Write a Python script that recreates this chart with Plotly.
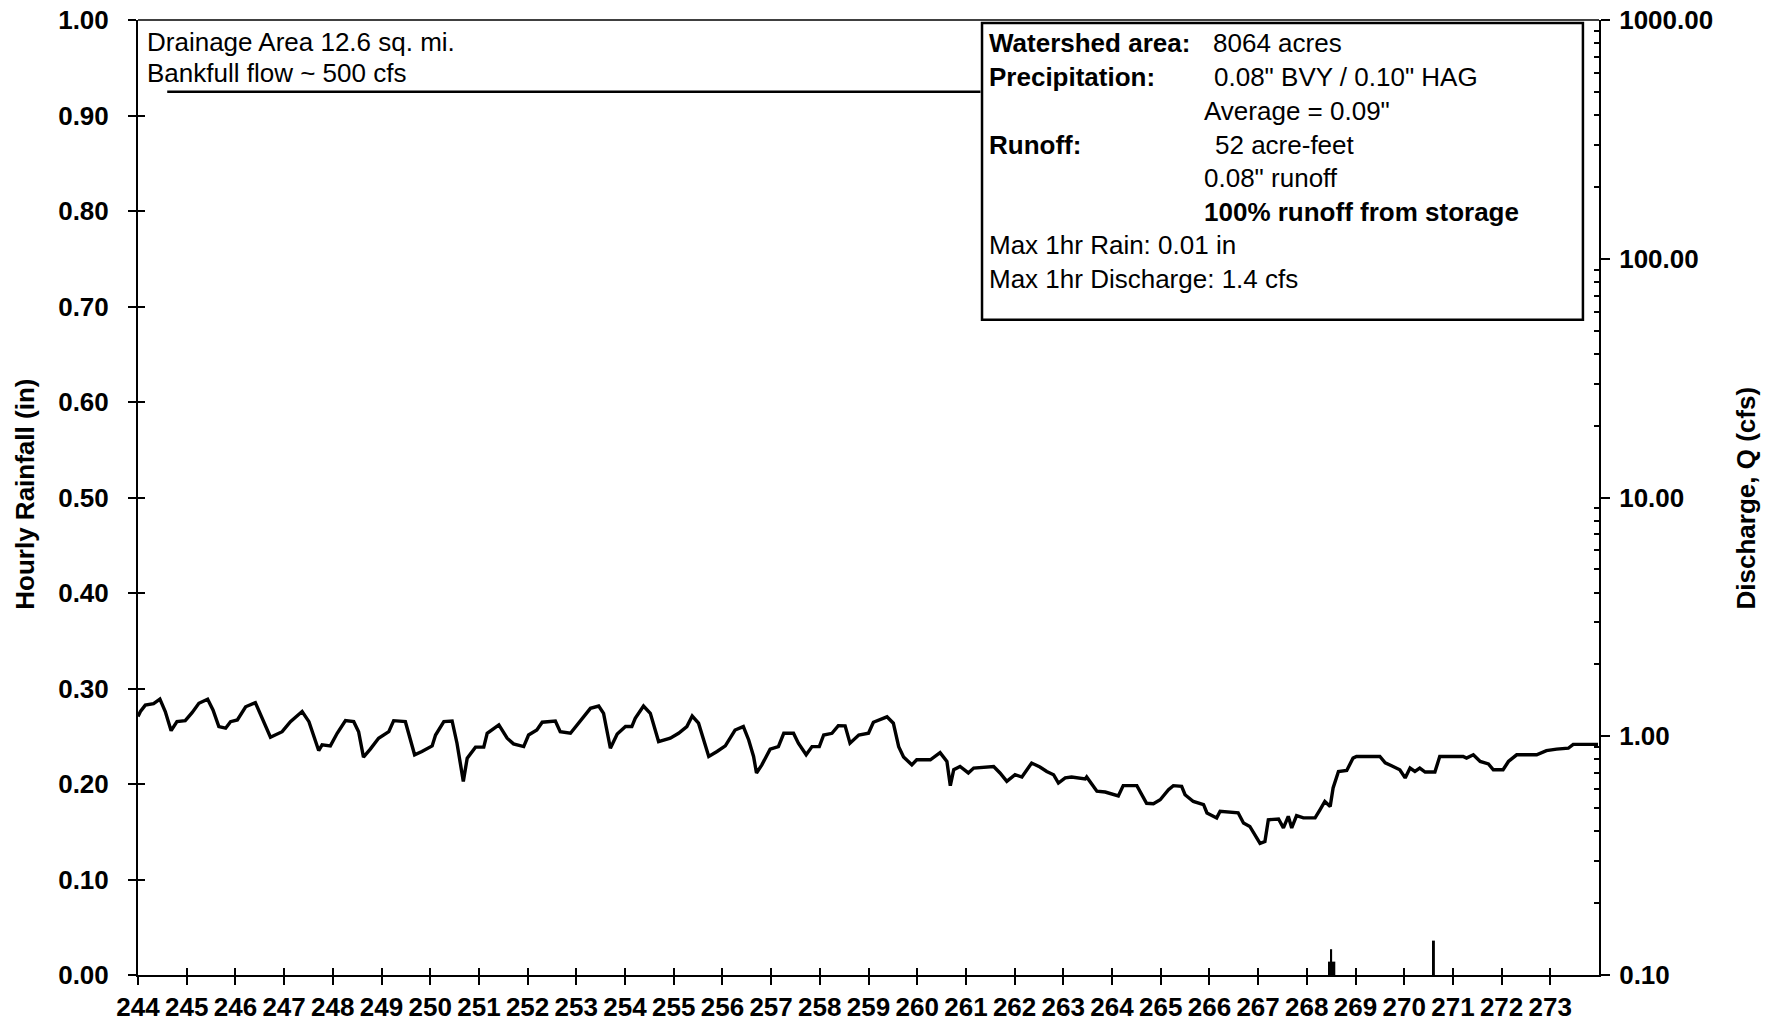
# hourly rainfall / discharge hydrograph, days 244-274
import plotly.graph_objects as go

##----- data -----##
day_ticks = list(range(244, 274))

# rainfall bars (in): one wide block, two thin spikes
rain_day = [268.51, 268.50, 270.61]
rain_in = [0.014, 0.027, 0.036]

# bankfull flow reference line (cfs)
bank_day = [244.6, 261.3]
bank_cfs = [500, 500]

# discharge trace (cfs), log axis
q_day = [244.00, 244.05, 244.15, 244.32, 244.45, 244.56, 244.68, 244.80, 244.97, 245.11,
         245.25, 245.43, 245.54, 245.66, 245.80, 245.90, 246.04, 246.21, 246.41, 246.55,
         246.72, 246.96, 247.13, 247.37, 247.51, 247.71, 247.78, 247.95, 248.09, 248.26,
         248.43, 248.53, 248.63, 248.77, 248.94, 249.15, 249.25, 249.49, 249.59, 249.68,
         249.83, 250.04,
         250.11, 250.28, 250.45, 250.55, 250.68, 250.76, 250.93, 251.10, 251.17, 251.41,
         251.58, 251.71, 251.92, 252.02, 252.19, 252.30, 252.57, 252.67, 252.88, 253.12,
         253.29, 253.46, 253.56, 253.70, 253.84, 254.01, 254.14, 254.21, 254.38, 254.52,
         254.69, 254.93, 255.10, 255.27, 255.38, 255.51, 255.72, 255.89, 256.06, 256.26,
         256.43, 256.54, 256.64, 256.70, 256.81, 256.98, 257.15, 257.26, 257.46, 257.56,
         257.72, 257.84, 257.99, 258.08, 258.25, 258.38, 258.52, 258.62, 258.80, 259.00,
         259.10, 259.38, 259.51, 259.62, 259.72, 259.89, 259.99, 260.27, 260.47, 260.61,
         260.68, 260.75, 260.88, 261.05, 261.16, 261.57, 261.70, 261.84, 262.01, 262.15,
         262.35, 262.52,
         262.66, 262.80, 262.90, 263.04, 263.17, 263.45, 263.48, 263.69, 263.86, 264.13,
         264.23, 264.51, 264.71, 264.85, 264.99, 265.16, 265.26, 265.43, 265.50, 265.67,
         265.88, 265.95, 266.15, 266.22, 266.59, 266.70, 266.83, 267.04, 267.14, 267.21,
         267.42, 267.52, 267.62, 267.69, 267.79, 267.93, 268.17, 268.27,
         268.37, 268.48, 268.54, 268.65, 268.82, 268.95, 269.02, 269.50, 269.61, 269.74,
         269.91, 270.02, 270.12, 270.22, 270.32, 270.43, 270.63, 270.73, 271.21, 271.28,
         271.42, 271.56, 271.73, 271.83, 272.03, 272.14, 272.31, 272.72, 272.92, 273.13,
         273.37, 273.47, 273.98]
q_cfs = [1.21, 1.27, 1.35, 1.37, 1.43, 1.27, 1.055, 1.151, 1.162, 1.255,
         1.374, 1.43, 1.288, 1.098, 1.081, 1.151, 1.170, 1.329, 1.382, 1.189,
         0.990, 1.045, 1.151, 1.27, 1.151, 0.871, 0.920, 0.911, 1.029, 1.162,
         1.151, 1.045, 0.818, 0.883, 0.981, 1.045, 1.162, 1.151, 0.981, 0.836,
         0.863, 0.911,
         1.012, 1.151, 1.159, 0.935, 0.647, 0.810, 0.900, 0.900, 1.029, 1.115,
         0.981, 0.929, 0.905, 1.012, 1.062, 1.145, 1.159, 1.045, 1.029, 1.189,
         1.309, 1.338, 1.247, 0.891, 1.022, 1.098, 1.098, 1.189, 1.338, 1.247,
         0.950, 0.981, 1.029, 1.098, 1.215, 1.134, 0.823, 0.863, 0.911, 1.062,
         1.098, 0.965, 0.823, 0.702, 0.759, 0.883, 0.905, 1.029, 1.029, 0.935,
         0.836, 0.905, 0.905, 1.012, 1.029, 1.107, 1.105, 0.935, 1.012, 1.029,
         1.145, 1.206, 1.134, 0.905, 0.818, 0.759, 0.797, 0.797, 0.854, 0.784,
         0.621, 0.724, 0.747, 0.702, 0.736, 0.747, 0.702, 0.647, 0.690, 0.675,
         0.772, 0.743,
         0.712, 0.690, 0.637, 0.669, 0.675, 0.662, 0.675, 0.589, 0.584, 0.562,
         0.621, 0.621, 0.524, 0.522, 0.542, 0.597, 0.621, 0.617, 0.569, 0.533,
         0.517, 0.477, 0.455, 0.485, 0.478, 0.433, 0.419, 0.356, 0.362, 0.447,
         0.450, 0.413, 0.462, 0.413, 0.465, 0.455, 0.455, 0.492,
         0.533, 0.508, 0.607, 0.712, 0.719, 0.810, 0.823, 0.823, 0.774, 0.752,
         0.724, 0.669, 0.736, 0.712, 0.736, 0.708, 0.708, 0.823, 0.823, 0.810,
         0.836, 0.784, 0.766, 0.724, 0.724, 0.784, 0.836, 0.836, 0.871, 0.883,
         0.891, 0.925, 0.925]

q_ticks = [0.1, 1, 10, 100, 1000]
q_ticktext = ["0.10", "1.00", "10.00", "100.00", "1000.00"]

##----- styles -----##
FONT = "Liberation Sans, Arial, sans-serif"
tick_font = dict(family=FONT, size=26, color="black", weight="bold")
box_font = dict(family=FONT, size=26, color="black")
title_font = dict(family=FONT, size=26, color="black", weight="bold")

fig = go.Figure()

# rain block on the main axes
fig.add_trace(go.Bar(x=rain_day[:1], y=rain_in[:1], width=0.15,
                     marker=dict(color="black", line=dict(width=0)),
                     xaxis="x", yaxis="y", hoverinfo="skip"))
# rain spikes on the overlay axes (x2/y3 only carry the inner half of the ticks)
fig.add_trace(go.Bar(x=rain_day[1:], y=rain_in[1:], width=0.04,
                     marker=dict(color="black", line=dict(width=0)),
                     xaxis="x2", yaxis="y3", hoverinfo="skip"))
fig.add_trace(go.Scatter(x=bank_day, y=bank_cfs, mode="lines",
                         line=dict(color="black", width=2.5),
                         xaxis="x", yaxis="y2"))
fig.add_trace(go.Scatter(x=q_day, y=q_cfs, mode="lines",
                         line=dict(color="black", width=3.4),
                         xaxis="x", yaxis="y2"))

minor_log = [m * 10 ** e for e in range(-1, 3) for m in range(2, 10)]

# body margin is removed in post_script, so the figure fills the window exactly
fig.update_layout(
    width=1775, height=1029, autosize=False,
    margin=dict(l=138, r=176, t=20, b=54, autoexpand=False),
    plot_bgcolor="white", paper_bgcolor="white",
    showlegend=False, barmode="overlay",
    xaxis=dict(range=[244, 274], tickvals=day_ticks, ticktext=[str(d) for d in day_ticks],
               ticks="outside", ticklen=8, tickwidth=2, tickcolor="black",
               showline=True, linewidth=2, linecolor="black", automargin=False,
               ticklabeloverflow="allow",
               showgrid=False, zeroline=False, tickfont=tick_font),
    xaxis2=dict(overlaying="x", anchor="y", side="bottom", range=[244, 274],
                tickvals=day_ticks, ticks="inside", ticklen=7, tickwidth=2,
                tickcolor="black", showticklabels=False, showline=False, automargin=False,
                showgrid=False, zeroline=False),
    yaxis=dict(range=[0, 1], dtick=0.1, tickformat=".2f",
               ticks="outside", ticklen=8, tickwidth=2, tickcolor="black",
               ticklabelstandoff=14, ticklabeloverflow="allow",
               showline=True, linewidth=2, linecolor="black", automargin=False,
               showgrid=False, zeroline=False, tickfont=tick_font),
    yaxis3=dict(overlaying="y", anchor="x", side="left", range=[0, 1], dtick=0.1,
                ticks="inside", ticklen=7, tickwidth=2, tickcolor="black", automargin=False,
                showticklabels=False, showline=False, showgrid=False, zeroline=False),
    yaxis2=dict(type="log", range=[-1, 3], overlaying="y", anchor="x", side="right",
                tickvals=q_ticks, ticktext=q_ticktext,
                ticks="outside", ticklen=9, tickwidth=2, tickcolor="black",
                ticklabelstandoff=4, ticklabeloverflow="allow",
                minor=dict(tickvals=minor_log, ticks="inside", ticklen=5,
                           tickwidth=1.5, tickcolor="black", showgrid=False),
                showline=True, linewidth=2, linecolor="black", automargin=False,
                showgrid=False, zeroline=False, tickfont=tick_font),
)

# top frame line
fig.add_shape(type="line", xref="paper", yref="paper", x0=0, x1=1, y0=1, y1=1,
              line=dict(color="black", width=1.5))

# right info box
fig.add_shape(type="rect", xref="paper", yref="paper",
              x0=0.5777, x1=0.989, y0=0.686, y1=0.9969,
              fillcolor="white", line=dict(color="black", width=2.5), layer="above")


def note(x, y, text, font=box_font):
    fig.add_annotation(x=x, y=y, xref="paper", yref="paper", text=text,
                       showarrow=False, xanchor="left", yanchor="middle", font=font)


note(0.0048, 0.977, "Drainage Area 12.6 sq. mi.")
note(0.0048, 0.944, "Bankfull flow ~ 500 cfs")

col1, col2 = 0.5811, 0.7283
note(col1, 0.9759, "<b>Watershed area:</b>")
note(0.7344, 0.9759, "8064 acres")
note(col1, 0.9403, "<b>Precipitation:</b>")
note(0.7351, 0.9403, "0.08\" BVY / 0.10\" HAG")
note(col2, 0.9047, "Average = 0.09\"")
note(col1, 0.8691, "<b>Runoff:</b>")
note(0.7361, 0.8691, "52 acre-feet")
note(col2, 0.8346, "0.08\" runoff")
note(col2, 0.7990, "<b>100% runoff from storage</b>")
note(col1, 0.7644, "Max 1hr Rain: 0.01 in")
note(col1, 0.7293, "Max 1hr Discharge: 1.4 cfs")

# axis titles
fig.add_annotation(x=-0.0773, y=0.503, xref="paper", yref="paper",
                   text="Hourly Rainfall (in)", textangle=-90, showarrow=False,
                   xanchor="center", yanchor="middle", font=title_font)
fig.add_annotation(x=1.1006, y=0.50, xref="paper", yref="paper",
                   text="Discharge, Q (cfs)", textangle=-90, showarrow=False,
                   xanchor="center", yanchor="middle", font=title_font)

fig.write_html("out.html", config={"displayModeBar": False},
               post_script="document.body.style.margin='0';")
